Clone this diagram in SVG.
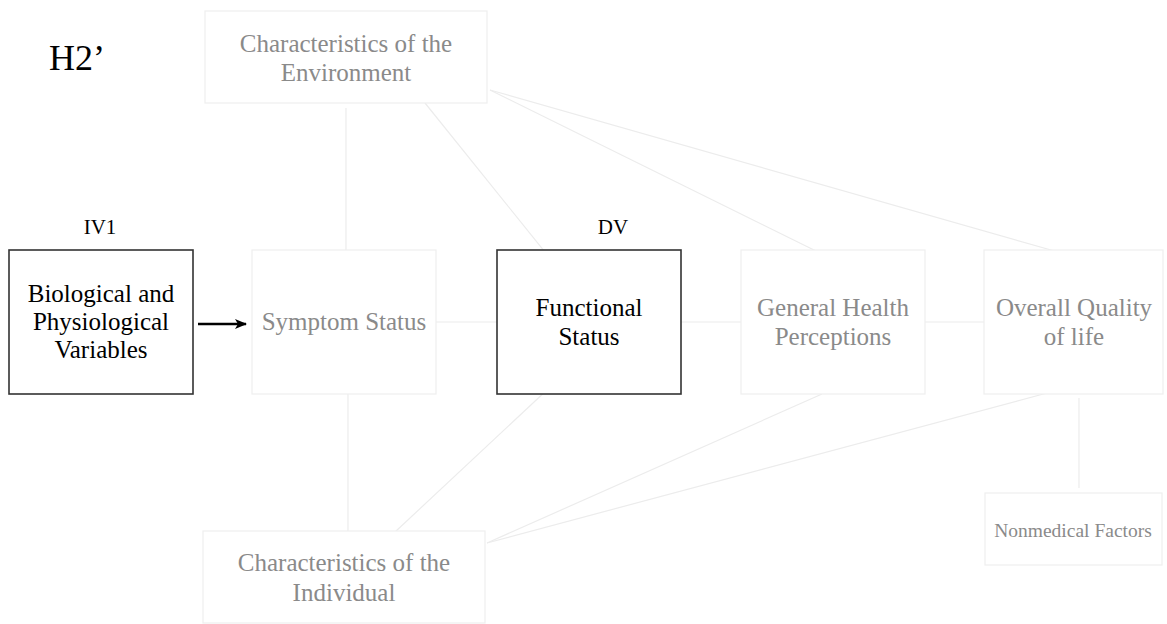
<svg xmlns="http://www.w3.org/2000/svg" width="1167" height="624" viewBox="0 0 1167 624" font-family="'Liberation Serif', 'DejaVu Serif', serif">
<defs>
<style>
text{font-family:'Liberation Serif','DejaVu Serif',serif;text-anchor:middle}
.blk{fill:#000;font-size:25px}
.gry{fill:#8a8a8a;font-size:25px}
.lbl{fill:#000;font-size:21px}
.fbox{fill:#fff;stroke:#efefef;stroke-width:1.2}
.dbox{fill:#fff;stroke:#333;stroke-width:1.6}
.faint{stroke:#ececec;stroke-width:1.2;fill:none}
</style>
<marker id="ah" viewBox="0 0 12 10" refX="11" refY="5" markerWidth="12" markerHeight="10" markerUnits="userSpaceOnUse" orient="auto">
<path d="M0,0 L12,5 L0,10 L3,5 z" fill="#000"/>
</marker>
</defs>
<rect width="1167" height="624" fill="#fff"/>
<g id="connectors">
<line class="faint" x1="346" y1="108" x2="346" y2="254"/>
<line class="faint" x1="425" y1="103" x2="553" y2="262"/>
<line class="faint" x1="490" y1="90" x2="818" y2="252"/>
<line class="faint" x1="490" y1="90" x2="1058" y2="252"/>
<line class="faint" x1="436" y1="322" x2="497" y2="322"/>
<line class="faint" x1="681" y1="322" x2="741" y2="322"/>
<line class="faint" x1="925" y1="322" x2="984" y2="322"/>
<line class="faint" x1="348" y1="383" x2="348" y2="531"/>
<line class="faint" x1="395" y1="532" x2="548" y2="389"/>
<line class="faint" x1="487" y1="543" x2="822" y2="394"/>
<line class="faint" x1="487" y1="543" x2="1047" y2="393"/>
<line class="faint" x1="1079" y1="398" x2="1079" y2="488"/>
<line x1="198" y1="324" x2="246" y2="324" stroke="#000" stroke-width="2.5" marker-end="url(#ah)"/>
</g>
<g id="title"><text x="49" y="70" font-family="'Liberation Serif', serif" style="text-anchor:start;font-size:36px;fill:#000">H2’</text></g>
<g id="iv1-label"><text class="lbl" x="100" y="234">IV1</text></g>
<g id="dv-label"><text class="lbl" x="613" y="234">DV</text></g>
<g id="environment">
<rect class="fbox" x="205" y="11" width="282" height="92"/>
<text class="gry" x="346" y="52">Characteristics of the</text>
<text class="gry" x="346" y="81">Environment</text>
</g>
<g id="biological">
<rect class="dbox" x="9" y="250" width="184" height="144"/>
<text class="blk" x="101" y="302">Biological and</text>
<text class="blk" x="101" y="330">Physiological</text>
<text class="blk" x="101" y="358">Variables</text>
</g>
<g id="symptom">
<rect class="fbox" x="252" y="250" width="184" height="144"/>
<text class="gry" x="344" y="330">Symptom Status</text>
</g>
<g id="functional">
<rect class="dbox" x="497" y="250" width="184" height="144"/>
<text class="blk" x="589" y="316">Functional</text>
<text class="blk" x="589" y="345">Status</text>
</g>
<g id="general-health">
<rect class="fbox" x="741" y="250" width="184" height="144"/>
<text class="gry" x="833" y="316">General Health</text>
<text class="gry" x="833" y="345">Perceptions</text>
</g>
<g id="overall-quality">
<rect class="fbox" x="984" y="250" width="179" height="144"/>
<text class="gry" x="1074" y="316">Overall Quality</text>
<text class="gry" x="1074" y="345">of life</text>
</g>
<g id="individual">
<rect class="fbox" x="203" y="531" width="282" height="92"/>
<text class="gry" x="344" y="571">Characteristics of the</text>
<text class="gry" x="344" y="601">Individual</text>
</g>
<g id="nonmedical">
<rect class="fbox" x="985" y="493" width="177" height="72"/>
<text class="gry" x="1073" y="537" style="font-size:19.5px">Nonmedical Factors</text>
</g>
</svg>
